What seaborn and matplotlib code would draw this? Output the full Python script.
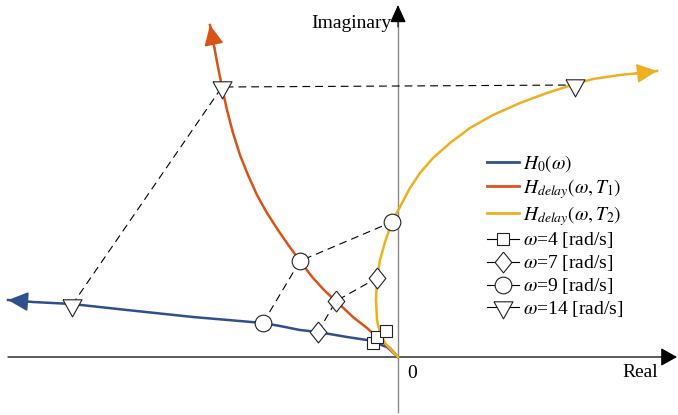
import numpy as np
import pandas as pd
import matplotlib
matplotlib.use('Agg')
import matplotlib.pyplot as plt
from matplotlib.lines import Line2D
import seaborn as sns

# --- dados ---
h0_re = [0.00, -0.11, -0.31, -0.51, -0.80, -0.98, -1.18, -1.35, -2.05, -2.71, -3.26, -3.65, -3.90]
h0_im = [0.00, 0.10, 0.17, 0.20, 0.25, 0.27, 0.31, 0.34, 0.40, 0.47, 0.53, 0.55, 0.57]

t1_re = [0.00, -0.08, -0.18, -0.31, -0.45, -0.61, -0.73, -0.85, -0.98, -1.09, -1.20, -1.31,
         -1.41, -1.50, -1.58, -1.65, -1.71, -1.76, -1.81, -1.85, -1.88]
t1_im = [0.00, 0.09, 0.17, 0.29, 0.40, 0.55, 0.66, 0.79, 0.96, 1.11, 1.27, 1.44,
         1.62, 1.82, 2.02, 2.24, 2.47, 2.70, 2.95, 3.17, 3.32]

t2_re = [0.00, -0.05, -0.13, -0.18, -0.21, -0.22, -0.21, -0.18, -0.13, -0.06, 0.04, 0.12,
         0.22, 0.35, 0.52, 0.72, 0.95, 1.22, 1.49, 1.77, 1.95, 2.22, 2.42, 2.59]
t2_im = [0.00, 0.05, 0.14, 0.24, 0.37, 0.57, 0.79, 0.97, 1.15, 1.35, 1.54, 1.69,
         1.84, 1.99, 2.14, 2.29, 2.42, 2.54, 2.64, 2.73, 2.78, 2.82, 2.84, 2.86]

curve_names = [r'$H_0(\omega)$', r'$H_{delay}(\omega,T_1)$', r'$H_{delay}(\omega,T_2)$']
curve_colors = ['#30508C', '#D95319', '#EDB120']

omegas = [4, 7, 9, 14]
# pontos de cada omega: H0, T1, T2
omega_re = {4: [-0.25, -0.21, -0.12], 7: [-0.80, -0.62, -0.21],
            9: [-1.35, -0.98, -0.06], 14: [-3.26, -1.76, 1.77]}
omega_im = {4: [0.14, 0.20, 0.26], 7: [0.25, 0.56, 0.79],
            9: [0.34, 0.96, 1.35], 14: [0.52, 2.70, 2.72]}

plt.rcParams['font.family'] = ['Liberation Serif', 'DejaVu Serif']
plt.rcParams['mathtext.fontset'] = 'stix'
plt.rcParams['font.size'] = 14

diamond = [(0, 1), (0.8, 0), (0, -1), (-0.8, 0), (0, 1)]
tri_down = [(-1, 0.6), (1, 0.6), (0, -1.2), (-1, 0.6)]
marker_style = {4: ('s', 9), 7: (diamond, 15), 9: ('o', 12), 14: (tri_down, 16.4)}

fig = plt.figure(figsize=(6.78, 4.15), dpi=100)
ax = fig.add_axes([0, 0, 1, 1])
ax.set_xlim(-3.98, 2.80)
ax.set_ylim(-0.58, 3.57)
ax.axis('off')

# --- eixos com setas ---
ax.plot([0, 0], [-0.55, 3.42], color='#8a8a8a', lw=1.0, zorder=1)
ax.annotate('', xy=(0, 3.52), xytext=(0, 3.30),
            arrowprops=dict(arrowstyle='-|>,head_length=0.55,head_width=0.25',
                            color='black', lw=0.8, mutation_scale=20,
                            shrinkA=0, shrinkB=0), zorder=1)
ax.annotate('', xy=(2.79, 0), xytext=(-3.90, 0),
            arrowprops=dict(arrowstyle='-|>,head_length=0.5,head_width=0.28',
                            color='black', lw=0.9, mutation_scale=20,
                            shrinkA=0, shrinkB=0), zorder=1)

# --- curvas ---
frames = []
for name, re, im in zip(curve_names, [h0_re, t1_re, t2_re], [h0_im, t1_im, t2_im]):
    frames.append(pd.DataFrame({'re': re, 'im': im, 'curve': name}))
df_curves = pd.concat(frames, ignore_index=True)

sns.lineplot(data=df_curves, x='re', y='im', hue='curve', units='curve', estimator=None,
             sort=False, palette=dict(zip(curve_names, curve_colors)), lw=1.8,
             legend=False, ax=ax, zorder=2)

# setas no final das curvas
for re, im, c in zip([h0_re, t1_re, t2_re], [h0_im, t1_im, t2_im], curve_colors):
    d = np.array([re[-1] - re[-2], im[-1] - im[-2]])
    d = d / np.hypot(*d)
    ax.annotate('', xy=(re[-1], im[-1]), xytext=(re[-1] - 0.25 * d[0], im[-1] - 0.25 * d[1]),
                arrowprops=dict(arrowstyle='-|>,head_length=0.5,head_width=0.24',
                                color=c, lw=1.2, mutation_scale=25,
                                shrinkA=0, shrinkB=0), zorder=2)

# --- linhas tracejadas + marcadores ---
for w in omegas:
    m, ms = marker_style[w]
    dfw = pd.DataFrame({'re': omega_re[w], 'im': omega_im[w]})
    sns.lineplot(data=dfw, x='re', y='im', sort=False, estimator=None, ax=ax,
                 color='black', lw=0.8, linestyle=(0, (7, 4.5)), zorder=3)
    ax.plot(omega_re[w], omega_im[w], linestyle='none', marker=m, ms=ms,
            mfc='white', mec='#222222', mew=0.8, zorder=4)

# --- textos ---
ax.text(-0.06, 3.29, 'Imaginary', ha='right', va='baseline')
ax.text(2.60, -0.20, 'Real', ha='right', va='baseline')
ax.text(0.09, -0.21, '0', ha='left', va='baseline')

# --- legenda ---
handles = [Line2D([], [], color=c, lw=2) for c in curve_colors]
labels = list(curve_names)
for w in omegas:
    m, ms = marker_style[w]
    handles.append(Line2D([], [], color='black', lw=0.8, marker=m, ms=ms,
                          mfc='white', mec='#222222', mew=0.8))
    labels.append(r'$\omega$=%d [rad/s]' % w)
ax.legend(handles, labels, loc='upper left', bbox_to_anchor=(487 / 678, 1 - 153 / 415),
          frameon=False, handlelength=1.65, handletextpad=0.2, labelspacing=0.15,
          borderpad=0, borderaxespad=0, fontsize=14)

fig.savefig('out.png', dpi=100)
